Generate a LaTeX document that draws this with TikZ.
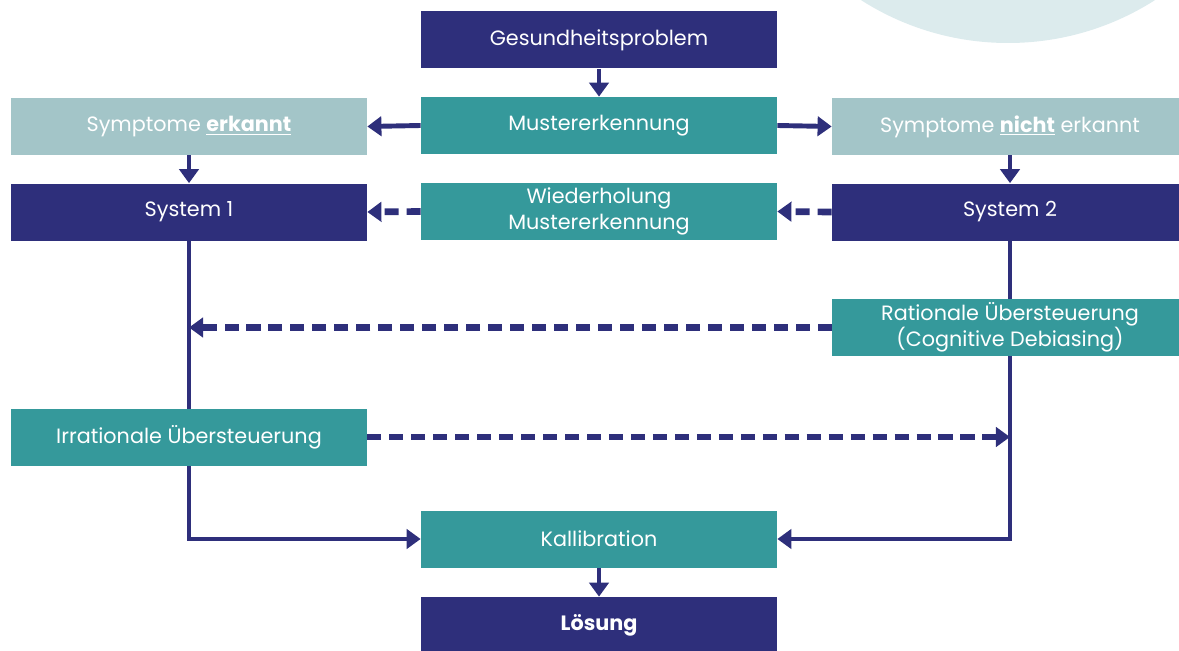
\documentclass[tikz,border=0pt]{standalone}
\usepackage{fontspec}
\setmainfont{Poppins}
\usetikzlibrary{arrows.meta,backgrounds}
\definecolor{navyblue}{HTML}{2E2F7B}
\definecolor{tealbox}{HTML}{35999B}
\definecolor{paleteal}{HTML}{A3C5C8}
\definecolor{paleblob}{HTML}{DCEBED}

\begin{document}
\begin{tikzpicture}[
    box/.style={minimum width=7.12cm, minimum height=1.14cm, inner sep=0pt,
        text=white, align=center, font=\fontsize{11.8}{15}\selectfont},
    darkbox/.style={box, fill=navyblue},
    tealbx/.style={box, fill=tealbox},
    palebox/.style={box, fill=paleteal},
    arr/.style={draw=navyblue, line width=2.8pt,
        -{Triangle[length=8pt, width=11pt]}},
    dasharr/.style={arr, line width=3.8pt, dash pattern=on 8pt off 4.5pt},
    link/.style={line width=2.1pt}
]
    \useasboundingbox (0,0) rectangle (23.58,-13.02);
    \clip (0,0) rectangle (23.58,-13.02);

    % Decorative circle, top right
    \fill[paleblob] (20.16,4.6) circle (5.46);

    % Middle column
    \node[darkbox] (gesund) at (11.98,-0.8) {Gesundheitsproblem};
    \node[tealbx] (muster) at (11.98,-2.51) {Mustererkennung};
    \node[tealbx] (wieder) at (11.98,-4.23) {Wiederholung\\Mustererkennung};
    \node[tealbx] (kalib) at (11.98,-10.78) {Kallibration};
    \node[darkbox] (loesung) at (11.98,-12.51) {\textbf{Lösung}};

    % Left column
    \node[palebox] (symErk) at (3.78,-2.53) {Symptome \underline{\textbf{erkannt}}};
    \node[darkbox] (sysEins) at (3.78,-4.24) {System 1};
    \node[tealbx] (irrational) at (3.78,-8.74) {Irrationale Übersteuerung};

    % Right column
    \node[palebox] (symNicht) at (20.2,-2.53) {Symptome \underline{\textbf{nicht}} erkannt};
    \node[darkbox] (sysZwei) at (20.2,-4.24) {System 2};
    \node[tealbx] (rational) at (20.2,-6.55) {Rationale Übersteuerung\\(Cognitive Debiasing)};

    % Short arrows
    \draw[arr] (gesund) -- (muster);
    \draw[arr] (muster.west) -- (symErk.east);
    \draw[arr] (muster.east) -- (symNicht.west);
    \draw[arr] (symErk) -- (sysEins);
    \draw[arr] (symNicht) -- (sysZwei);
    \draw[arr] (kalib) -- (loesung);
    \draw[dasharr] (wieder.west) -- (sysEins.east);
    \draw[dasharr] (sysZwei.west) -- (wieder.east);

    % Long lines behind the boxes
    \begin{scope}[on background layer]
        \draw[arr, link] (sysEins) |- (kalib);
        \draw[arr, link] (sysZwei) |- (kalib);
    \end{scope}

    % Overrides
    \draw[dasharr] (rational.west) -- (rational.west -| sysEins.south);
    \draw[dasharr] (irrational.east) -- (irrational.east -| sysZwei.south);
\end{tikzpicture}
\end{document}
